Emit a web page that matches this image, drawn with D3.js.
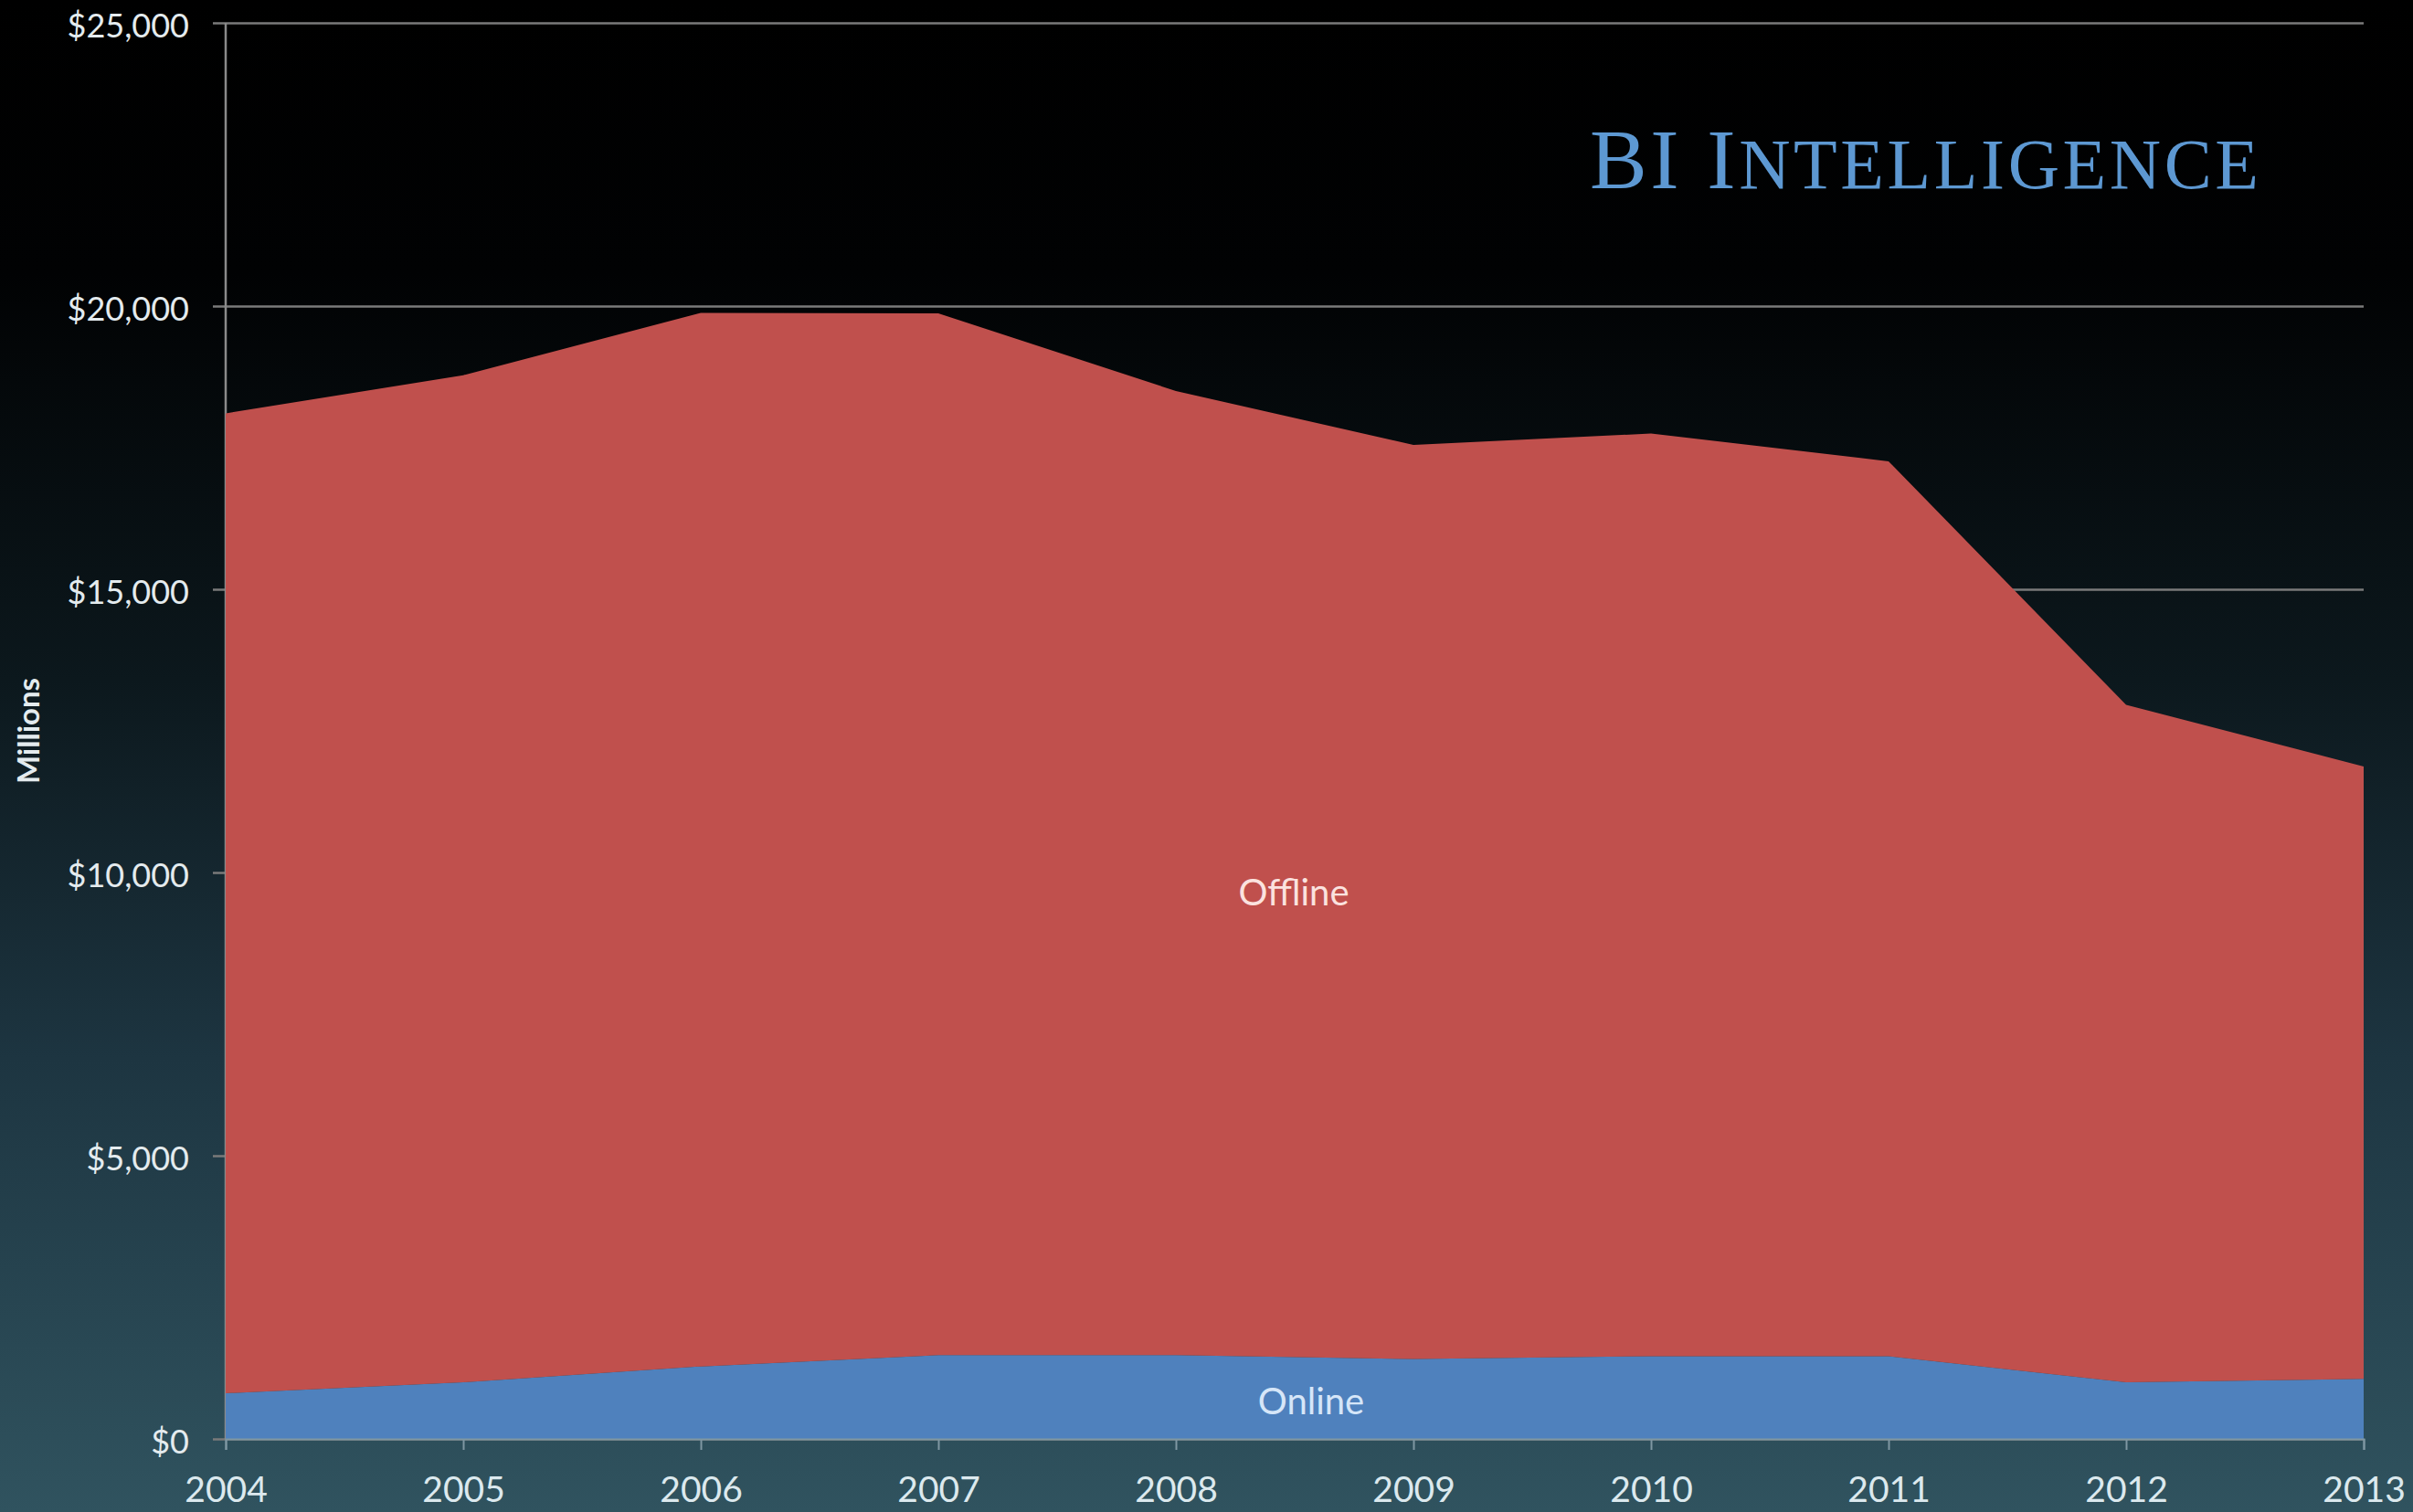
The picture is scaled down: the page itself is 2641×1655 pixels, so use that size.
<!DOCTYPE html>
<html>
<head>
<meta charset="utf-8">
<script src="https://cdn.jsdelivr.net/npm/d3@7"></script>
<style>
  html, body { margin: 0; padding: 0; background: #000; }
  svg { display: block; }
</style>
</head>
<body>
<svg id="chart" width="2641" height="1655"></svg>
<script>
// ---- Data (values in $ millions) ----
const years = [2004, 2005, 2006, 2007, 2008, 2009, 2010, 2011, 2012, 2013];
const online = [806, 1000, 1280, 1480, 1480, 1410, 1460, 1460, 1000, 1060];
const offline = [17300, 17780, 18600, 18390, 17020, 16140, 16290, 15800, 11960, 10810];
const yTicks = [0, 5000, 10000, 15000, 20000, 25000];
const seriesKeys = ["online", "offline"];
const seriesLabels = ["Online", "Offline"];

const W = 2641, H = 1655;
const svg = d3.select("#chart");

// background gradient
const defs = svg.append("defs");
const bg = defs.append("linearGradient").attr("id", "bg").attr("x1", 0).attr("y1", 0).attr("x2", 0).attr("y2", 1);
[[0, "#000000"], [0.18, "#010203"], [0.45, "#0c181d"], [0.7, "#1d3541"], [1, "#30535f"]]
  .forEach(([o, c]) => bg.append("stop").attr("offset", o).attr("stop-color", c));
svg.append("rect").attr("width", W).attr("height", H).attr("fill", "url(#bg)");

const x = d3.scalePoint().domain(years).range([247, 2587]);
const y = d3.scaleLinear().domain([0, 25000]).range([1575, 25]);

// gridlines
svg.append("g")
  .attr("transform", `translate(${x(years[0])},0)`)
  .call(d3.axisLeft(y).tickValues(yTicks).tickSize(-(x(years[years.length - 1]) - x(years[0]))).tickFormat(""))
  .call(g => g.select(".domain").remove())
  .call(g => g.selectAll("line").attr("stroke", "#7a7a7a").attr("stroke-width", 2.5)
    .attr("x1", -14));

// left axis line
svg.append("line")
  .attr("x1", x(years[0])).attr("x2", x(years[0]))
  .attr("y1", y(25000)).attr("y2", y(0))
  .attr("stroke", "#8a8a8a").attr("stroke-width", 2.5);

// stacked areas
const table = years.map((yr, i) => ({ year: yr, online: online[i], offline: offline[i] }));
const stack = d3.stack().keys(seriesKeys)(table);
const colors = { online: "#4f81bd", offline: "#c0504d" };
const area = d3.area()
  .x(d => x(d.data.year))
  .y0(d => y(d[0]))
  .y1(d => y(d[1]))
  .curve(d3.curveLinear);
svg.append("g").selectAll("path").data(stack).join("path")
  .attr("d", area)
  .attr("fill", d => colors[d.key]);

// y tick labels
svg.append("g").selectAll("text").data(yTicks).join("text")
  .attr("x", 207).attr("y", d => y(d) + 7)
  .attr("text-anchor", "end").attr("dominant-baseline", "middle")
  .attr("font-family", "Lato, 'Open Sans', sans-serif").attr("font-size", 36)
  .attr("fill", "#e4ebee")
  .text(d => "$" + d3.format(",")(d));

// x axis ticks and labels
const xAxis = svg.append("g")
  .attr("transform", `translate(0,${y(0)})`)
  .call(d3.axisBottom(x).tickSize(12).tickPadding(29).tickFormat(d => String(d)));
xAxis.select(".domain").attr("stroke", "#7f97a2").attr("stroke-width", 2);
xAxis.selectAll("line").attr("stroke", "#7f97a2").attr("stroke-width", 2);
xAxis.selectAll("text")
  .attr("font-family", "Lato, 'Open Sans', sans-serif").attr("font-size", 39)
  .attr("fill", "#dce9ee");

// y axis title
svg.append("text")
  .attr("transform", "translate(35,800) rotate(-90)")
  .attr("text-anchor", "middle").attr("dominant-baseline", "middle")
  .attr("font-family", "Lato, 'Open Sans', sans-serif").attr("font-weight", "bold").attr("font-size", 33)
  .attr("fill", "#e4ebee")
  .text("Millions");

// series labels
const labelPos = { online: [1435, 1538], offline: [1416, 981] };
const labelColors = { online: "#d6e6f8", offline: "#fbe2df" };
svg.append("g").selectAll("text").data(seriesKeys).join("text")
  .attr("x", d => labelPos[d][0]).attr("y", d => labelPos[d][1])
  .attr("text-anchor", "middle").attr("dominant-baseline", "middle")
  .attr("font-family", "Lato, 'Open Sans', sans-serif").attr("font-size", 40)
  .attr("fill", d => labelColors[d])
  .text((d, i) => seriesLabels[i]);

// BI Intelligence logo text
const logo = svg.append("text")
  .attr("x", 1740).attr("y", 206)
  .attr("font-family", "'Liberation Serif', 'DejaVu Serif', serif")
  .attr("fill", "#5d98d2")
  .attr("textLength", 732).attr("lengthAdjust", "spacing");
logo.append("tspan").attr("font-size", 94).text("BI ");
logo.append("tspan").attr("font-size", 94).text("I");
logo.append("tspan").attr("font-size", 78).text("NTELLIGENCE");
</script>
</body>
</html>
